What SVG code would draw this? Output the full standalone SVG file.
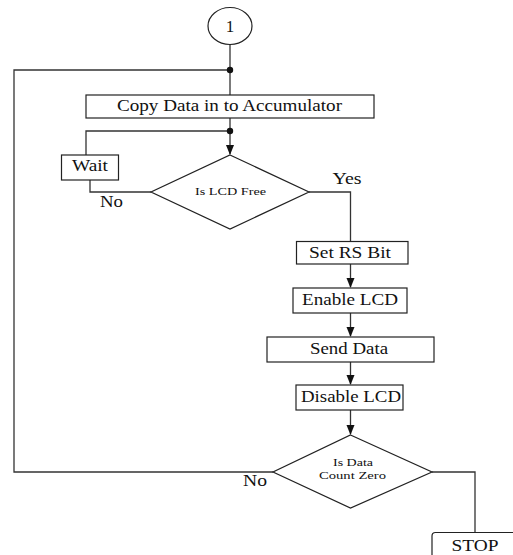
<svg xmlns="http://www.w3.org/2000/svg" width="513" height="555" viewBox="0 0 513 555">
<defs>
<style>
.box{fill:#fff;stroke:#222;stroke-width:1.2}
.ln{fill:none;stroke:#333;stroke-width:1.3}
.t{font-family:"Liberation Serif","Times New Roman",serif;fill:#111;text-anchor:middle}
.t16{font-size:17px}
.t11{font-size:11px}
</style>
</defs>
<rect width="513" height="555" fill="#fff"/>
<g id="connectors">
<path class="ln" d="M230,44.5 V95"/>
<path class="ln" d="M230,70 H14 V472 H273"/>
<path class="ln" d="M230,118 V154"/>
<path d="M226,145 L234,145 L230,155 Z" fill="#111"/>
<path class="ln" d="M230,131 H86 V155"/>
<path class="ln" d="M90,180 V192 H151"/>
<path class="ln" d="M309,192 H350.5 V241.5"/>
<path class="ln" d="M350.5,264 V287"/>
<path d="M346.5,278 L354.5,278 L350.5,288 Z" fill="#111"/>
<path class="ln" d="M350.5,313 V336"/>
<path d="M346.5,327 L354.5,327 L350.5,337 Z" fill="#111"/>
<path class="ln" d="M350.5,362 V384"/>
<path d="M346.5,375 L354.5,375 L350.5,385 Z" fill="#111"/>
<path class="ln" d="M350.5,410 V434"/>
<path d="M346.5,425 L354.5,425 L350.5,435 Z" fill="#111"/>
<path class="ln" d="M432,472 H475 V532.5"/>
<circle cx="230" cy="70" r="3.2" fill="#111"/>
<circle cx="230" cy="131" r="3.2" fill="#111"/>
</g>
<g id="n-start">
<ellipse class="box" cx="230" cy="26" rx="22" ry="18.5"/>
<text class="t t16" x="230" y="32">1</text>
</g>
<g id="n-copy">
<rect class="box" x="86" y="95" width="288" height="23"/>
<text class="t t16" x="229.5" y="111" textLength="225" lengthAdjust="spacingAndGlyphs">Copy Data in to Accumulator</text>
</g>
<g id="n-wait">
<rect class="box" x="61.5" y="155" width="57" height="25"/>
<text class="t t16" x="90" y="171" textLength="36" lengthAdjust="spacingAndGlyphs">Wait</text>
</g>
<g id="n-lcdfree">
<polygon class="box" points="230,155 309,192 230,229 151,192"/>
<text class="t t11" x="230.5" y="194.5" textLength="71" lengthAdjust="spacingAndGlyphs">Is LCD Free</text>
</g>
<g id="labels">
<text class="t t16" x="347" y="183.5" textLength="29" lengthAdjust="spacingAndGlyphs">Yes</text>
<text class="t t16" x="111.5" y="206.5" textLength="23" lengthAdjust="spacingAndGlyphs">No</text>
<text class="t t16" x="255" y="485.5" textLength="24" lengthAdjust="spacingAndGlyphs">No</text>
</g>
<g id="n-setrs">
<rect class="box" x="296.5" y="241.5" width="111.5" height="22.5"/>
<text class="t t16" x="350" y="257.5" textLength="82" lengthAdjust="spacingAndGlyphs">Set RS Bit</text>
</g>
<g id="n-enable">
<rect class="box" x="293" y="288" width="114" height="25"/>
<text class="t t16" x="350" y="305" textLength="96" lengthAdjust="spacingAndGlyphs">Enable LCD</text>
</g>
<g id="n-send">
<rect class="box" x="267" y="337" width="167" height="25"/>
<text class="t t16" x="349" y="353.5" textLength="78" lengthAdjust="spacingAndGlyphs">Send Data</text>
</g>
<g id="n-disable">
<rect class="box" x="296" y="385" width="107" height="25"/>
<text class="t t16" x="351" y="401.5" textLength="100" lengthAdjust="spacingAndGlyphs">Disable LCD</text>
</g>
<g id="n-zero">
<polygon class="box" points="350.5,435 432,472 350.5,508 273,472"/>
<text class="t t11" x="353" y="465.5" textLength="40" lengthAdjust="spacingAndGlyphs">Is Data</text>
<text class="t t11" x="352.5" y="479" textLength="67" lengthAdjust="spacingAndGlyphs">Count Zero</text>
</g>
<g id="n-stop">
<path class="box" d="M432,560 V536 Q432,532.5 435.5,532.5 H520"/>
<text class="t t16" x="475" y="551" textLength="47" lengthAdjust="spacingAndGlyphs">STOP</text>
</g>
</svg>
